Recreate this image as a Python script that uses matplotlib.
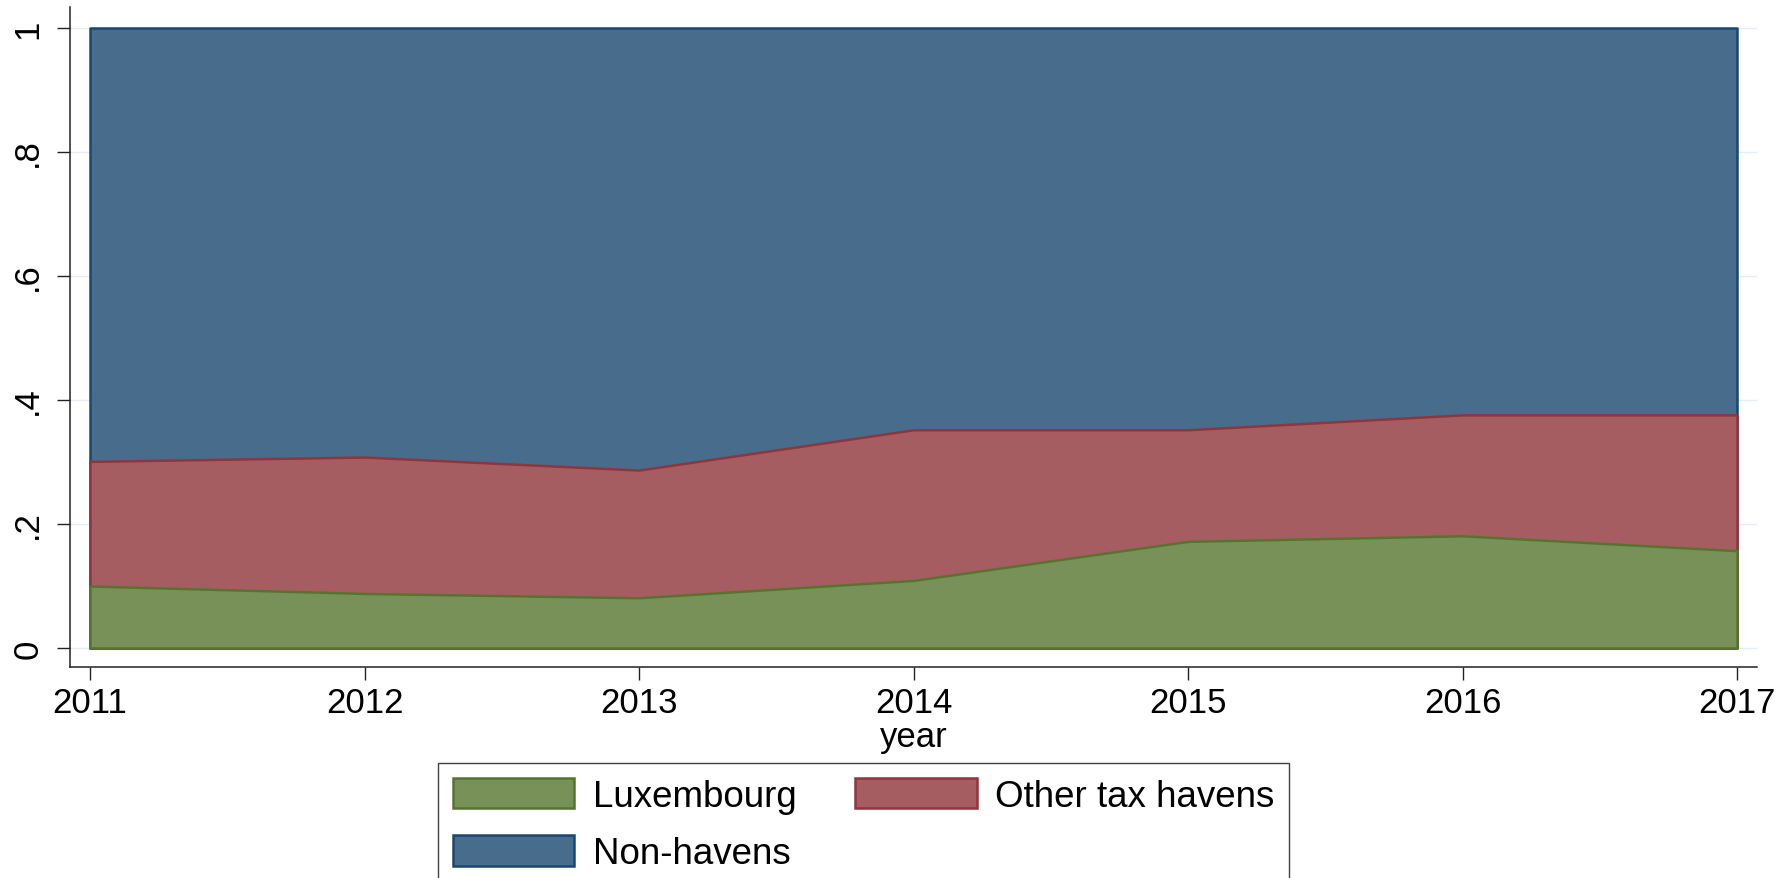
import matplotlib
matplotlib.use("Agg")
import matplotlib.pyplot as plt
import numpy as np

plt.rcParams['font.family'] = ['Liberation Sans', 'DejaVu Sans']

years = [2011, 2012, 2013, 2014, 2015, 2016, 2017]
luxembourg = [0.100, 0.088, 0.081, 0.109, 0.172, 0.181, 0.157]
other_havens = [0.201, 0.220, 0.206, 0.243, 0.180, 0.195, 0.219]
non_havens = [0.699, 0.692, 0.713, 0.648, 0.648, 0.624, 0.624]
series_names = ["Luxembourg", "Other tax havens", "Non-havens"]
y_ticks = [0, 0.2, 0.4, 0.6, 0.8, 1.0]
y_ticklabels = ["0", ".2", ".4", ".6", ".8", "1"]

fills = ["#779159", "#A65D62", "#486C8C"]
edges = ["#55752F", "#90353B", "#1A476F"]

x = np.array(years)
stack = np.cumsum(np.vstack([luxembourg, other_havens, non_havens]), axis=0)

fig = plt.figure(figsize=(17.83, 8.79), dpi=100)
ax = fig.add_axes([70/1783, 1-668/879, (1757-70)/1783, (668-8)/879])

handles = {}
for i in [2, 1, 0]:
    h = ax.fill_between(x, 0, stack[i], facecolor=fills[i], edgecolor=edges[i],
                        linewidth=1.8, label=series_names[i], zorder=2+(2-i))
    handles[i] = h

px = 274.5
ax.set_xlim(2011 - 20/px, 2017 + 20/px)
ax.set_ylim(-19/620, 1 + 21/620)
ax.set_xticks(years)
ax.set_xticklabels([str(y) for y in years])
ax.set_yticks(y_ticks)
ax.set_yticklabels(y_ticklabels, rotation=90, va='center')
ax.tick_params(axis='both', labelsize=25, direction='out', length=9.5, width=1.0,
               color='#222222', labelcolor='black')
ax.tick_params(axis='y', pad=9)
ax.tick_params(axis='x', pad=4)
ax.set_xlabel("year", fontsize=25, labelpad=1)

for s in ['top', 'right']:
    ax.spines[s].set_visible(False)
for s in ['left', 'bottom']:
    ax.spines[s].set_color('#222222')
    ax.spines[s].set_linewidth(1.1)

ax.grid(axis='y', color='#E2ECF4', linewidth=1.0, zorder=0)
ax.set_axisbelow(True)

# legend filled column-wise: order so rows read Luxembourg, Other / Non-havens
order = [0, 2, 1]
leg = fig.legend(handles=[handles[i] for i in order],
                 labels=[series_names[i] for i in order], loc='upper left',
                 bbox_to_anchor=(438/1783, 1-764/879), borderaxespad=0,
                 ncol=2, fontsize=26.5, frameon=True, fancybox=False,
                 handlelength=3.3, handleheight=0.9, handletextpad=0.5,
                 columnspacing=1.6, borderpad=0.4, labelspacing=0.58)
leg.get_frame().set_edgecolor('#111111')
leg.get_frame().set_linewidth(1.0)

fig.savefig("out.png", dpi=100)
